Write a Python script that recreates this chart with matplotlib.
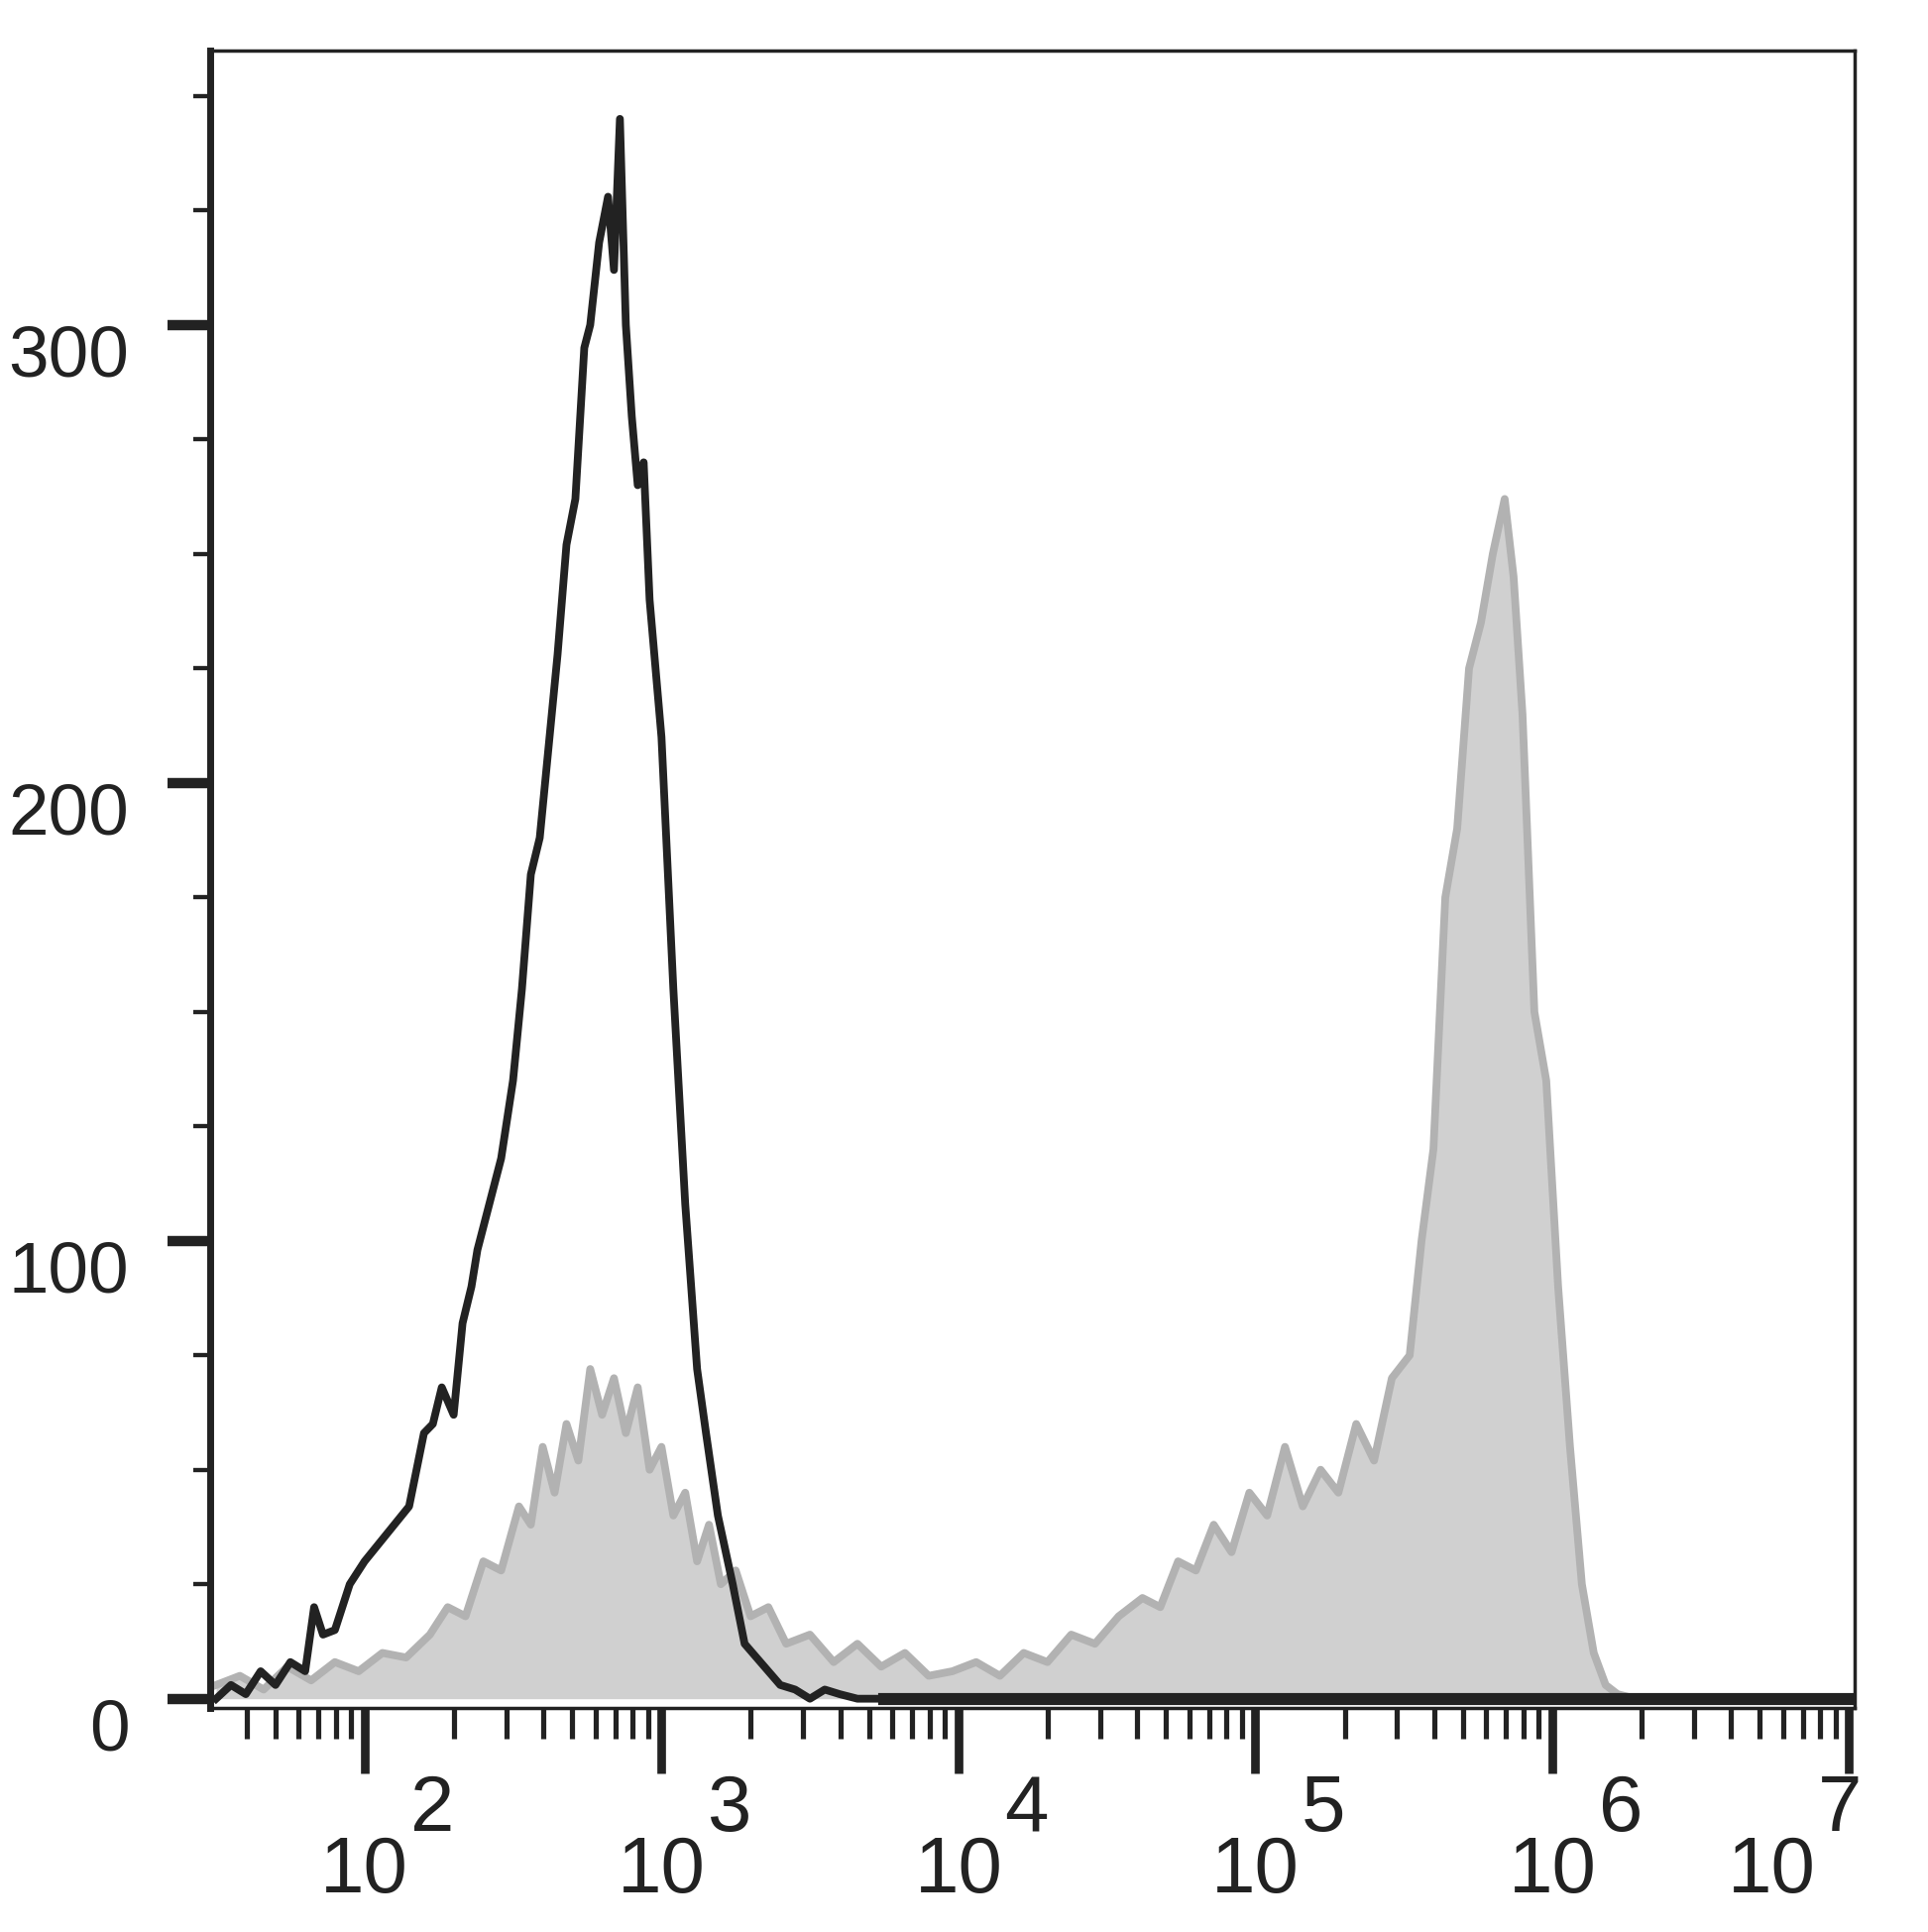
import numpy as np
import matplotlib.pyplot as plt
from matplotlib.transforms import blended_transform_factory

# log10 of fluorescence intensity, counts
black_logx = [1.50, 1.55, 1.60, 1.65, 1.70, 1.75, 1.80, 1.83, 1.86, 1.90, 1.95, 2.00, 2.05, 2.10, 2.15, 2.20,
              2.23, 2.26, 2.30, 2.33, 2.36, 2.38, 2.42, 2.46, 2.50, 2.53, 2.56, 2.59, 2.62, 2.65, 2.68,
              2.71, 2.74, 2.76, 2.79, 2.82, 2.84, 2.86, 2.88, 2.90, 2.92, 2.94, 2.96, 3.00, 3.04,
              3.08, 3.12, 3.15, 3.19, 3.24, 3.28, 3.32, 3.36, 3.40, 3.45, 3.50, 3.55, 3.60, 3.66,
              3.72, 4.0, 5.0, 6.0, 7.02]
black_counts = [0, 3, 1, 6, 3, 8, 6, 20, 14, 15, 25, 30, 34, 38, 42, 58,
                60, 68, 62, 82, 90, 98, 108, 118, 135, 155, 180, 188, 208, 228, 252,
                262, 295, 300, 318, 328, 312, 345, 300, 280, 265, 270, 240, 210, 155,
                108, 72, 58, 40, 25, 12, 9, 6, 3, 2, 0, 2, 1, 0,
                0, 0, 0, 0, 0]

grey_logx = [1.50, 1.58, 1.66, 1.74, 1.82, 1.90, 1.98, 2.06, 2.14, 2.22, 2.28, 2.34, 2.40, 2.46, 2.52,
             2.56, 2.60, 2.64, 2.68, 2.72, 2.76, 2.80, 2.84, 2.88, 2.92, 2.96, 3.00, 3.04, 3.08,
             3.12, 3.16, 3.20, 3.25, 3.30, 3.36, 3.42, 3.50, 3.58, 3.66, 3.74, 3.82, 3.90, 3.98,
             4.06, 4.14, 4.22, 4.30, 4.38, 4.46, 4.54, 4.62, 4.68, 4.74, 4.80, 4.86, 4.92,
             4.98, 5.04, 5.10, 5.16, 5.22, 5.28, 5.34, 5.40, 5.46, 5.52, 5.56, 5.60, 5.64,
             5.68, 5.72, 5.76, 5.80, 5.84, 5.87, 5.90, 5.94, 5.98, 6.02, 6.06, 6.10, 6.14,
             6.18, 6.22, 6.28, 6.34, 7.02]
grey_counts = [3, 5, 2, 7, 4, 8, 6, 10, 9, 14, 20, 18, 30, 28, 42,
               38, 55, 45, 60, 52, 72, 62, 70, 58, 68, 50, 55, 40, 45,
               30, 38, 25, 28, 18, 20, 12, 14, 8, 12, 7, 10, 5, 6,
               8, 5, 10, 8, 14, 12, 18, 22, 20, 30, 28, 38, 32,
               45, 40, 55, 42, 50, 45, 60, 52, 70, 75, 100, 120, 175,
               190, 225, 235, 250, 262, 245, 215, 150, 135, 90, 55, 25, 10,
               3, 1, 0, 0, 0]

fig = plt.figure(figsize=(15.55, 15.58), dpi=125.1)
ax = fig.add_axes([0.109, 0.116, 0.853, 0.858])

gx = 10 ** np.array(grey_logx)
bx = 10 ** np.array(black_logx)
ax.fill_between(gx, grey_counts, color='#d0d0d0', linewidth=0)
ax.plot(gx, grey_counts, color='#b2b2b2', linewidth=4.5)
ax.plot(bx, black_counts, color='#222222', linewidth=4.5)
ax.axhline(0, xmin=0.41, color='#222222', linewidth=7)

ax.set_xscale('log')
ax.set_xlim(10 ** 1.48, 10 ** 7.02)
ax.set_ylim(-2, 360)

for s in ax.spines.values():
    s.set_color('#222222')
    s.set_linewidth(2)
ax.spines['left'].set_linewidth(4)

# y ticks
ax.set_yticks([0, 100, 200, 300])
ax.set_yticks(np.arange(0, 351, 25), minor=True)
ax.set_yticklabels(['0', '100', '200', '300'], fontsize=42, fontfamily='Liberation Sans', color='#222222')
ax.tick_params(axis='y', which='major', length=25, width=6, pad=22, color='#222222')
ax.tick_params(axis='y', which='minor', length=10, width=2.5, color='#222222')
for lab in ax.get_yticklabels():
    lab.set_verticalalignment('top')

# x ticks
ax.set_xticks([10 ** k for k in range(2, 8)])
ax.set_xticklabels([])
ax.tick_params(axis='x', which='major', length=38, width=5, color='#222222')
ax.tick_params(axis='x', which='minor', length=18, width=3, color='#222222')

trans = blended_transform_factory(ax.transData, ax.transAxes)
for k in range(2, 8):
    base = k - 0.26 if k == 7 else k
    ax.text(10 ** base, -0.099, '10', transform=trans, ha='center', va='center',
            fontsize=46, fontfamily='Liberation Sans', color='#222222')
    ax.text(10 ** (base + 0.23), -0.062, str(k), transform=trans, ha='center', va='center',
            fontsize=46, fontfamily='Liberation Sans', color='#222222')

fig.savefig('out.png', dpi=125.1)
